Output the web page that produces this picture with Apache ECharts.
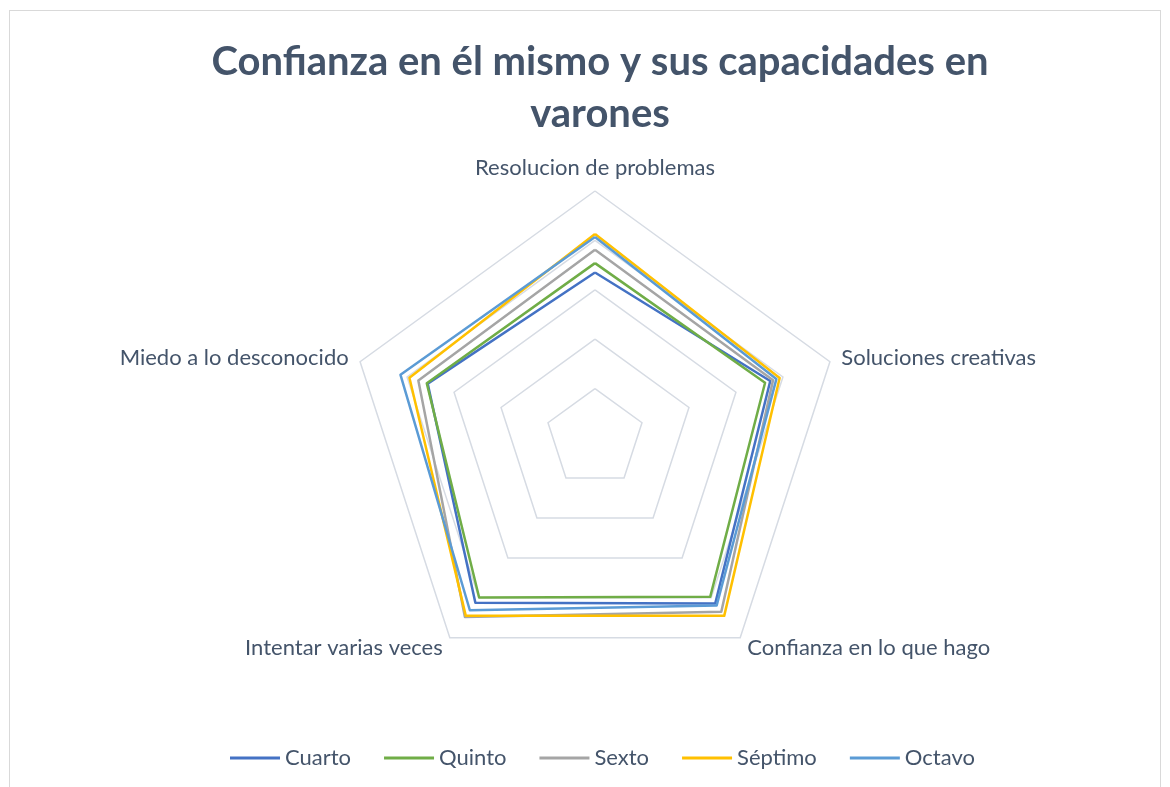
<!DOCTYPE html>
<html>
<head>
<meta charset="utf-8">
<script src="https://cdn.jsdelivr.net/npm/echarts@6/dist/echarts.min.js"></script>
<style>
  html, body { margin: 0; padding: 0; background: #fff; }
  #frame { position: absolute; left: 9px; top: 10px; width: 1152px; height: 790px; border: 1px solid #d9d9d9; box-sizing: border-box; }
  #chart { position: absolute; left: 0; top: 0; width: 1170px; height: 787px; }
</style>
</head>
<body>
<div id="frame"></div>
<div id="chart"></div>
<script>
// ejes en el orden de Excel (sentido horario desde arriba)
const categories = [
  'Resolucion de problemas',
  'Soluciones creativas',
  'Confianza en lo que hago',
  'Intentar varias veces',
  'Miedo a lo desconocido',
]
const seriesNames = ['Cuarto', 'Quinto', 'Sexto', 'Séptimo', 'Octavo']
const cuarto = [3.35, 3.73, 4.14, 4.12, 3.56]
const quinto = [3.54, 3.62, 3.97, 3.99, 3.58]
const sexto = [3.81, 3.79, 4.35, 4.48, 3.76]
const septimo = [4.13, 3.93, 4.45, 4.45, 3.95]
const octavo = [4.07, 3.86, 4.19, 4.31, 4.14]
const axisMax = 5
const colors = ['#4472C4', '#70AD47', '#A5A5A5', '#FFC000', '#5B9BD5']

// ECharts recorre los ejes en sentido antihorario: reordenamos
const order = [0, 4, 3, 2, 1]
const reorder = arr => order.map(i => arr[i])

const allValues = [cuarto, quinto, sexto, septimo, octavo]

const chart = echarts.init(document.getElementById('chart'))

chart.setOption({
  animation: false,
  color: colors,
  title: {
    text: 'Confianza en él mismo y sus capacidades en\nvarones',
    left: 595,
    textAlign: 'center',
    top: 31,
    textStyle: {
      fontFamily: 'Lato',
      fontWeight: 'bold',
      fontSize: 40,
      lineHeight: 52,
      color: '#44546A',
    },
  },
  legend: {
    bottom: 13,
    left: 225,
    icon: 'rect',
    itemWidth: 50,
    itemHeight: 3,
    itemGap: 33,
    textStyle: { fontFamily: 'Lato', fontSize: 22, color: '#44546A' },
    data: seriesNames,
  },
  radar: {
    center: [595, 438],
    radius: 247,
    startAngle: 90,
    splitNumber: 5,
    shape: 'polygon',
    indicator: reorder(categories).map(name => ({ name, min: 0, max: axisMax })),
    axisName: { fontFamily: 'Lato', fontSize: 22, color: '#44546A' },
    nameGap: 12,
    axisLine: { show: false },
    axisTick: { show: false },
    axisLabel: { show: false },
    splitArea: { show: false },
    splitLine: { lineStyle: { color: '#d6dbe3', width: 1.5 } },
  },
  series: [
    {
      type: 'radar',
      symbol: 'none',
      lineStyle: { width: 2.5 },
      data: allValues.map((vals, i) => ({
        name: seriesNames[i],
        value: reorder(vals),
        lineStyle: { color: colors[i], width: 2.5 },
        itemStyle: { color: colors[i] },
      })),
    },
  ],
})
</script>
</body>
</html>
